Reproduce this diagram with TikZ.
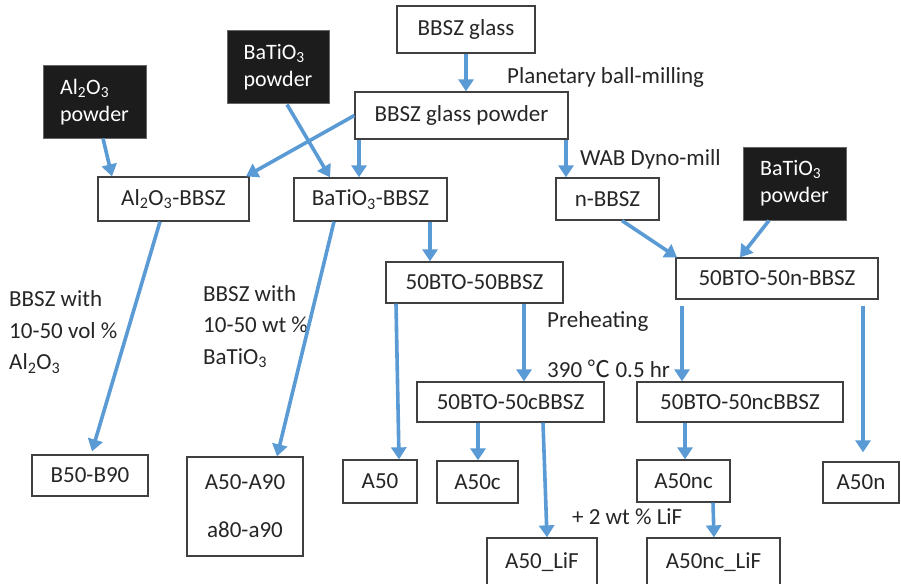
\documentclass[tikz,border=0pt]{standalone}
\usepackage{fontspec}
\setmainfont{Carlito}
\newfontfamily\cjk{Noto Sans CJK SC}
\usetikzlibrary{arrows.meta,calc}
\definecolor{arrblue}{HTML}{5B9BD5}
\definecolor{boxline}{HTML}{404040}
\definecolor{darkfill}{HTML}{1C1C1C}
\tikzset{
 box/.style={draw=boxline, line width=1.3pt, fill=white, inner sep=0pt, align=center, font=\fontsize{23}{27}\selectfont, text=black!85},
 darkbox/.style={draw=black!60, line width=1pt, fill=darkfill, inner sep=0pt, align=left, font=\fontsize{22}{27}\selectfont, text=white},
 lbl/.style={anchor=west, inner sep=0pt, font=\fontsize{23}{31.5}\selectfont, text=black!85, align=left},
 arr/.style={draw=arrblue, line width=3.6pt, -{Triangle[width=15pt,length=12pt]}},
}
\begin{document}
\begin{tikzpicture}[x=1pt,y=-1pt]
\useasboundingbox (0,0) rectangle (901,583);
\fill[white] (0,0) rectangle (901,583);
% boxes
\node[box, minimum width=138, minimum height=47] (glass) at (466,29.5) {BBSZ glass};
\node[box, minimum width=213, minimum height=47] (gpow) at (461.5,115.5) {BBSZ glass powder};
\node[darkbox, minimum width=103, minimum height=72] (alp) at (94.5,102) {Al\textsubscript{2}O\textsubscript{3}\\powder};
\node[darkbox, minimum width=102, minimum height=73] (btpa) at (278,67.5) {BaTiO\textsubscript{3}\\powder};
\node[darkbox, minimum width=103, minimum height=73] (btpb) at (794.5,183.5) {BaTiO\textsubscript{3}\\powder};
\node[box, minimum width=151, minimum height=44] (albbsz) at (173.5,199) {Al\textsubscript{2}O\textsubscript{3}-BBSZ};
\node[box, minimum width=153, minimum height=43] (btbbsz) at (370.5,199.5) {BaTiO\textsubscript{3}-BBSZ};
\node[box, minimum width=103, minimum height=42] (nbbsz) at (607.5,199) {n-BBSZ};
\node[box, minimum width=177, minimum height=41] (bb) at (474.5,282.5) {50BTO-50BBSZ};
\node[box, minimum width=202, minimum height=41] (bbn) at (777,278.5) {50BTO-50n-BBSZ};
\node[box, minimum width=187, minimum height=40] (cb) at (510.5,402) {50BTO-50cBBSZ};
\node[box, minimum width=206, minimum height=40] (ncb) at (740,402) {50BTO-50ncBBSZ};
\node[box, minimum width=116, minimum height=41] (bnine) at (90,475.5) {B50-B90};
\node[box, minimum width=116, minimum height=99] (anine) at (245,506.5) {A50-A90\\[21pt]a80-a90};
\node[box, minimum width=74, minimum height=43] (afifty) at (380,481.5) {A50};
\node[box, minimum width=81, minimum height=42] (afc) at (477.5,482) {A50c};
\node[box, minimum width=93, minimum height=42] (afnc) at (683.5,481) {A50nc};
\node[box, minimum width=76, minimum height=41] (afn) at (861,482.5) {A50n};
\node[box, minimum width=110, minimum height=48] (aflif) at (542,562) {A50\_LiF};
\node[box, minimum width=133, minimum height=48] (afnclif) at (713.5,562) {A50nc\_LiF};
% labels
\node[lbl] (lplan) at (507,77) {Planetary ball-milling};
\node[lbl] (lwab) at (580,159) {WAB Dyno-mill};
\node[lbl] (lpre) at (547,321) {Preheating};
\node[lbl] (ltemp) at (547,369) {390 {\cjk ℃} 0.5 hr};
\node[lbl] (llif) at (572,517) {+ 2 wt \% LiF};
\node[lbl] (lvol) at (9,332) {BBSZ with\\10-50 vol \%\\Al\textsubscript{2}O\textsubscript{3}};
\node[lbl] (lwt) at (203,326.5) {BBSZ with\\10-50 wt \%\\BaTiO\textsubscript{3}};
% arrows
\draw[arr] (glass.south) -- (glass.south |- gpow.north);
\draw[arr] (gpow.west) -- (albbsz.north -| 246,0);
\draw[arr] (gpow.south -| 359,0) -- (btbbsz.north -| 359,0);
\draw[arr] (btpa.south -| 287,0) -- (btbbsz.north -| 330,0);
\draw[arr] (alp.south -| 103,0) -- (albbsz.north -| 112,0);
\draw[arr] (gpow.south -| 566,0) -- (nbbsz.north -| 566,0);
\draw[arr] (albbsz.south -| 160,0) -- ([yshift=3pt]bnine.north -| 92,0);
\draw[arr] (btbbsz.south -| 334,0) -- (anine.north -| 277,0);
\draw[arr] (btbbsz.south -| 430,0) -- (bb.north -| 430,0);
\draw[arr] (nbbsz.south -| 622,0) -- (bbn.north -| 677,0);
\draw[arr] (btpb.south -| 769,0) -- (bbn.north -| 740,0);
\draw[arr] (bb.south -| 396,0) -- (afifty.north -| 399,0);
\draw[arr] (bb.south -| 524,0) -- (cb.north -| 524,0);
\draw[arr] ([yshift=-6pt]bbn.south -| 682,0) -- (ncb.north -| 682,0);
\draw[arr] ([yshift=-6pt]bbn.south -| 863,0) -- ([yshift=9pt]afn.north -| 863,0);
\draw[arr] (cb.south -| 478,0) -- (afc.north -| 478,0);
\draw[arr] (cb.south -| 543,0) -- (aflif.north -| 547,0);
\draw[arr] (ncb.south -| 685,0) -- (afnc.north -| 685,0);
\draw[arr] (afnc.south -| 713,0) -- (afnclif.north -| 714,0);
\end{tikzpicture}
\end{document}
